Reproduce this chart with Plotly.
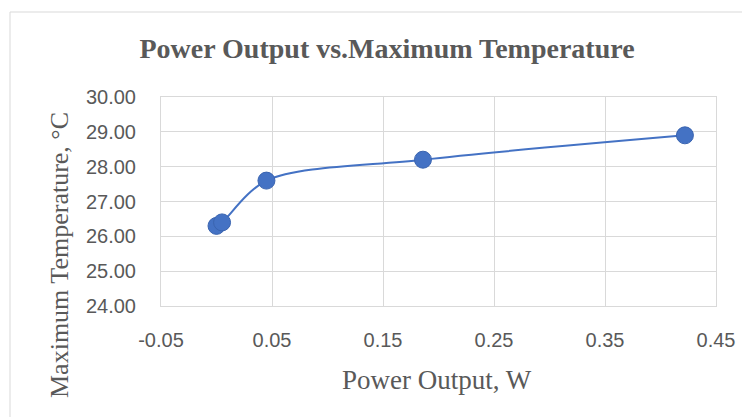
import plotly.graph_objects as go

power_w = [0.0, 0.005, 0.045, 0.186, 0.422]
max_temp_c = [26.3, 26.4, 27.6, 28.2, 28.9]

x_ticks = [-0.05, 0.05, 0.15, 0.25, 0.35, 0.45]
y_ticks = [24, 25, 26, 27, 28, 29, 30]

title_text = "Power Output vs.Maximum Temperature"
x_title = "Power Output, W"
y_title = "Maximum Temperature, °C"

W, H = 750, 417
OFF = 8  # page body margin
# target plot area on the page: x 161..716, y 97..306
ML = 161 - OFF
MT = 97 - OFF
MR = W + OFF - 716
MB = H + OFF - 306
pw = W - ML - MR
ph = H - MT - MB


def px(xpage):
    return (xpage - OFF - ML) / pw


def py(ypage):
    return 1 - (ypage - OFF - MT) / ph


blue = "#4472C4"
grid = "#D9D9D9"
tick_font = dict(family="Liberation Sans, Arial, sans-serif", size=20, color="#595959")
serif = "Liberation Serif, Times New Roman, serif"

fig = go.Figure()
fig.add_trace(go.Scatter(
    x=power_w, y=max_temp_c, mode="lines+markers",
    line=dict(color=blue, width=2, shape="spline", smoothing=0.9),
    marker=dict(size=17, color=blue, line=dict(color="#3A64B0", width=1)),
    showlegend=False,
))

fig.update_layout(
    width=W, height=H,
    margin=dict(l=ML, r=MR, t=MT, b=MB),
    paper_bgcolor="white", plot_bgcolor="white",
    title=dict(text="<b>" + title_text + "</b>", x=(387 - OFF) / W, xanchor="center",
               y=1 - (48 - OFF) / H, yanchor="middle",
               font=dict(family=serif, size=28, color="#595959")),
    xaxis=dict(range=[x_ticks[0], x_ticks[-1]], tickvals=x_ticks,
               ticktext=[f"{v:.2f}" for v in x_ticks],
               showgrid=True, gridcolor=grid, gridwidth=1,
               showline=True, linecolor=grid, mirror=True, zeroline=False,
               ticks="", tickfont=tick_font, ticklabelstandoff=16),
    yaxis=dict(range=[y_ticks[0], y_ticks[-1]], tickvals=y_ticks,
               ticktext=[f"{v:.2f}" for v in y_ticks],
               showgrid=True, gridcolor=grid, gridwidth=1,
               showline=True, linecolor=grid, mirror=True, zeroline=False,
               ticks="", tickfont=tick_font, ticklabelstandoff=20),
)

fig.add_annotation(text=x_title, xref="paper", yref="paper",
                   x=px(437), y=py(380),
                   xanchor="center", yanchor="middle", showarrow=False,
                   font=dict(family=serif, size=27, color="#595959"))
fig.add_annotation(text=y_title, xref="paper", yref="paper", textangle=-90,
                   x=px(59), y=py(110),
                   xanchor="center", yanchor="top", showarrow=False,
                   font=dict(family=serif, size=26, color="#595959"))

fig.add_shape(type="rect", xref="paper", yref="paper",
              x0=px(10), x1=px(W + 30), y0=py(H + 30), y1=py(12),
              line=dict(color=grid, width=1), layer="below")

fig.write_html("out.html")
